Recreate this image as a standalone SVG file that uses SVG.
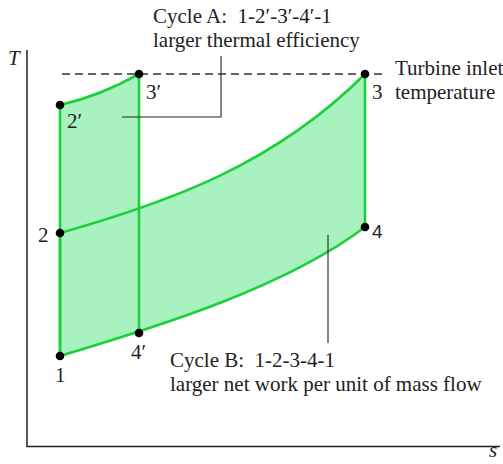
<svg xmlns="http://www.w3.org/2000/svg" width="503" height="464" viewBox="0 0 503 464">
<style>
.t{font-family:"Liberation Serif","Times New Roman",serif;font-size:21px;fill:#222}
.i{font-style:italic}
.fill{fill:#a8f2c0;stroke:none}
.cyc{fill:none;stroke:#1ccf3c;stroke-width:2.6;stroke-linejoin:round}
.lead{fill:none;stroke:#222;stroke-width:1.1}
.ax{fill:none;stroke:#222;stroke-width:1.5}
.dot{fill:#000}
</style>
<g id="axes">
<path class="ax" d="M27,50 V446.5 H500"/>
<text class="t i" x="8" y="65">T</text>
<text class="t i" x="489" y="457">s</text>
</g>
<g id="fills">
<path class="fill" d="M60,233 C170,202 275,164 365,74 L365,227 C286,287 160,326 60,356 Z"/>
<path class="fill" d="M60,105 Q100,96 139,74 L139,333 L60,356 Z"/>
</g>
<g id="connectors">
<path d="M62,74 H382" fill="none" stroke="#333" stroke-width="1.3" stroke-dasharray="8,5"/>
<path class="cyc" d="M60,233 C170,202 275,164 365,74 L365,227 C286,287 160,326 60,356 Z"/>
<path class="cyc" d="M60,356 V105 Q100,96 139,74 V333"/>
<path class="lead" d="M122,117 H221 V56"/>
<path class="lead" d="M328,235 V343"/>
</g>
<g id="p1"><circle class="dot" cx="60" cy="356" r="4.3"/><text class="t" x="55" y="382">1</text></g>
<g id="p2"><circle class="dot" cx="60" cy="233" r="4.3"/><text class="t" x="38" y="242">2</text></g>
<g id="p2p"><circle class="dot" cx="60" cy="105" r="4.3"/><text class="t" x="67" y="128">2′</text></g>
<g id="p3p"><circle class="dot" cx="139" cy="74" r="4.3"/><text class="t" x="146" y="99">3′</text></g>
<g id="p3"><circle class="dot" cx="365" cy="74" r="4.3"/><text class="t" x="372" y="99">3</text></g>
<g id="p4"><circle class="dot" cx="365" cy="227" r="4.3"/><text x="372" y="238" style="font-family:'Liberation Sans',Arial,sans-serif;font-size:19px;fill:#222">4</text></g>
<g id="p4p"><circle class="dot" cx="139" cy="333" r="4.3"/><text class="t" x="131" y="359">4′</text></g>
<g id="labelA">
<text class="t" x="153" y="23">Cycle A:&#160; 1-2′-3′-4′-1</text>
<text class="t" x="153" y="47">larger thermal efficiency</text>
</g>
<g id="labelTurbine">
<text class="t" x="395" y="75">Turbine inlet</text>
<text class="t" x="395" y="99">temperature</text>
</g>
<g id="labelB">
<text class="t" x="170" y="367">Cycle B:&#160; 1-2-3-4-1</text>
<text class="t" x="170" y="391">larger net work per unit of mass flow</text>
</g>
</svg>
